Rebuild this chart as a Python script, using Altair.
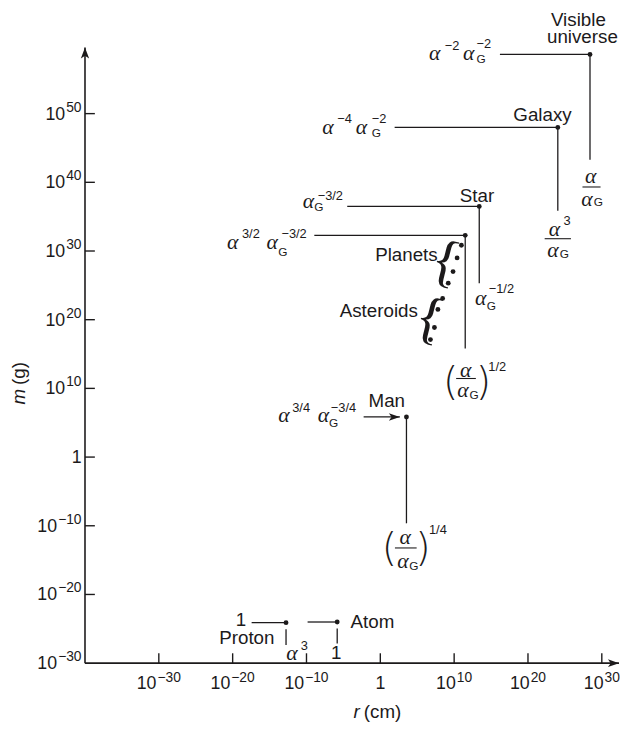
import altair as alt
import pandas as pd

# ---------------- data: log10 r (cm), log10 m (g) ----------------
obj_names = ["Proton", "Atom", "Man", "Planets", "Star", "Galaxy", "Visible universe"]
obj_log_r = [-12.77, -5.84, 3.54, 11.5, 13.4, 24.04, 28.4]
obj_log_m = [-24.11, -24.01, 5.84, 32.28, 36.49, 47.99, 58.62]

planet_log_r = [10.98, 10.4, 9.85, 9.2]
planet_log_m = [30.84, 29.0, 27.0, 25.32]
asteroid_log_r = [8.44, 7.8, 7.33, 6.79]
asteroid_log_m = [23.1, 21.5, 18.86, 17.1]

# horizontal leader lines (from log r -> to log r, at log m)
hl_from = [-17.43, -9.85, -8.94, -4.48, 1.94, 16.2, -2.26]
hl_to = [-12.77, -5.84, 11.5, 13.4, 24.04, 28.4, 2.65]
hl_m = [-24.11, -24.01, 32.28, 36.49, 47.99, 58.62, 5.84]

# vertical leader lines (at log r, from log m top -> bottom)
vl_r = [-12.77, -5.84, 3.54, 11.5, 13.4, 24.04, 28.4]
vl_top = [-25.06, -24.97, 5.84, 32.28, 36.49, 47.99, 58.62]
vl_bot = [-27.36, -27.13, -9.64, 15.8, 25.32, 35.87, 43.29]

# fraction bars (from log r -> to log r, at log m)
fb_from = [10.27, 1.98, 22.26, 27.38]
fb_to = [12.94, 4.92, 25.82, 29.83]
fb_m = [11.44, -13.23, 31.79, 39.32]

# axes
x_tick_values = [-30, -20, -10, 0, 10, 20, 30]
y_tick_values = [-30, -20, -10, 0, 10, 20, 30, 40, 50]
x_axis_end = 32.33
y_axis_end = 59.63
X_DOMAIN = [-40, 32.33]
Y_DOMAIN = [-30, 64.7]

# annotation pieces: text, log r, log m, kind
texts = [
    ("Visible", 26.83, 63.65, "lab_c"),
    ("universe", 27.37, 61.21, "lab_c"),
    ("α", 6.59, 58.76, "alpha_l"),
    ("−2", 8.73, 59.81, "sup"),
    ("α", 11.20, 58.76, "alpha_l"),
    ("G", 13.02, 58.0, "sub"),
    ("−2", 13.02, 60.06, "sup"),
    ("α", 28.49, 40.90, "alpha_c"),
    ("α", 27.98, 37.54, "alpha_c"),
    ("G", 28.92, 37.06, "sub"),
    ("Galaxy", 21.97, 49.75, "lab_c"),
    ("α", -7.86, 47.99, "alpha_l"),
    ("−4", -5.83, 49.28, "sup"),
    ("α", -3.32, 47.99, "alpha_l"),
    ("G", -1.16, 47.12, "sub"),
    ("−2", -1.16, 49.28, "sup"),
    ("α", 23.58, 33.23, "alpha_c"),
    ("3", 24.80, 34.33, "sup"),
    ("α", 23.37, 30.17, "alpha_c"),
    ("G", 24.30, 29.59, "sub"),
    ("Star", 13.10, 37.93, "lab_c"),
    ("α", -10.49, 37.31, "alpha_l"),
    ("G", -8.94, 36.35, "sub"),
    ("−3/2", -8.49, 38.03, "sup"),
    ("α", 12.81, 23.17, "alpha_l"),
    ("G", 14.41, 21.98, "sub"),
    ("−1/2", 14.68, 24.52, "sup"),
    ("Planets", 7.77, 29.40, "lab_r"),
    ("Asteroids", 5.09, 21.26, "lab_r"),
    ("{", 8.8, 28.3, "brace"),
    ("{", 6.66, 20.0, "brace"),
    ("α", -20.75, 31.32, "alpha_l"),
    ("3/2", -18.74, 32.51, "sup"),
    ("α", -15.40, 31.32, "alpha_l"),
    ("G", -13.84, 29.88, "sub"),
    ("−3/2", -13.40, 32.51, "sup"),
    ("(", 9.53, 10.77, "paren"),
    (")", 13.96, 10.77, "paren"),
    ("α", 11.58, 12.64, "alpha_c"),
    ("α", 11.20, 9.76, "alpha_c"),
    ("G", 12.07, 9.04, "sub"),
    ("1/2", 14.63, 13.11, "sup"),
    ("Man", 0.87, 8.22, "lab_c"),
    ("α", -13.84, 6.17, "alpha_l"),
    ("3/4", -11.93, 7.18, "sup"),
    ("α", -8.49, 6.17, "alpha_l"),
    ("G", -6.94, 5.02, "sub"),
    ("−3/4", -6.71, 7.18, "sup"),
    ("(", 1.24, -13.37, "paren"),
    (")", 5.79, -13.37, "paren"),
    ("α", 3.38, -11.65, "alpha_c"),
    ("α", 3.05, -15.10, "alpha_c"),
    ("G", 3.92, -15.82, "sub"),
    ("1/4", 6.59, -10.60, "sup"),
    ("1", -18.16, -23.76, "lab_r"),
    ("Proton", -18.08, -26.41, "lab_c"),
    ("α", -12.73, -28.56, "alpha_l"),
    ("3", -10.79, -27.50, "sup"),
    ("Atom", -4.04, -24.01, "lab_l"),
    ("1", -5.98, -28.56, "lab_c"),
    ("r", -3.64, -37.18, "ital_l"),
    ("(cm)", -2.23, -37.18, "lab_l"),
    ("m", -48.96, 8.80, "ylab_i"),
    ("(g)", -48.96, 12.16, "ylab"),
]

# ---------------- styling ----------------
W, H = 541, 659
FONT = "Liberation Sans, Arial, Helvetica, DejaVu Sans, sans-serif"
SERIF = "Liberation Serif, Times New Roman, DejaVu Serif, serif"
INK = "#1c1a1b"

xscale = alt.Scale(domain=X_DOMAIN, nice=False, zero=False)
yscale = alt.Scale(domain=Y_DOMAIN, nice=False, zero=False)


def X(f="lr"):
    return alt.X(f"{f}:Q", scale=xscale, axis=None)


def Y(f="lm"):
    return alt.Y(f"{f}:Q", scale=yscale, axis=None)


# ---------------- tables ----------------
df_obj = pd.DataFrame({"name": obj_names, "lr": obj_log_r, "lm": obj_log_m})
df_small = pd.DataFrame({"lr": planet_log_r + asteroid_log_r,
                         "lm": planet_log_m + asteroid_log_m})
df_h = pd.DataFrame({"lr": hl_from, "lr2": hl_to, "lm": hl_m})
df_v = pd.DataFrame({"lr": vl_r, "lm": vl_top, "lm2": vl_bot})
df_fb = pd.DataFrame({"lr": fb_from, "lr2": fb_to, "lm": fb_m})
df_xt = pd.DataFrame({"lr": x_tick_values})
df_yt = pd.DataFrame({"lm": [v for v in y_tick_values if v > Y_DOMAIN[0]]})
df_axes = pd.DataFrame({"lr": [X_DOMAIN[0], X_DOMAIN[0]], "lr2": [X_DOMAIN[0], x_axis_end],
                        "lm": [Y_DOMAIN[0], Y_DOMAIN[0]], "lm2": [y_axis_end, Y_DOMAIN[0]]})
df_up = pd.DataFrame({"lr": [X_DOMAIN[0]], "lm": [y_axis_end]})
df_right = pd.DataFrame({"lr": [x_axis_end, hl_to[-1]], "lm": [Y_DOMAIN[0], hl_m[-1]]})
df_txt = pd.DataFrame(texts, columns=["text", "lr", "lm", "kind"])


def tick_table(values, field):
    rows = []
    for v in values:
        if v == 0:
            rows.append({field: v, "base": "1", "exp": "", "sign": "one"})
        else:
            rows.append({field: v, "base": "10", "exp": str(v).replace("-", "−"),
                         "sign": "neg" if v < 0 else "pos"})
    return pd.DataFrame(rows)


df_xl = tick_table(x_tick_values, "lr")
df_yl = tick_table(y_tick_values, "lm")

ARROW_UP = "M0,0 L0.6,1.6 L0,1.2 L-0.6,1.6 Z"
ARROW_RIGHT = "M0,0 L-1.6,-0.55 L-1.2,0 L-1.6,0.55 Z"

# ---------------- layers ----------------
axes_lines = alt.Chart(df_axes).mark_rule(color=INK, strokeWidth=1.6).encode(
    x=X(), x2="lr2:Q", y=Y(), y2="lm2:Q")
xticks = alt.Chart(df_xt).mark_rule(color=INK, strokeWidth=1.4).encode(
    x=X(), y=alt.value(H), y2=alt.value(H - 10))
yticks = alt.Chart(df_yt).mark_rule(color=INK, strokeWidth=1.4).encode(
    y=Y(), x=alt.value(0), x2=alt.value(10))
up_arrow = alt.Chart(df_up).mark_point(shape=ARROW_UP, filled=True, size=196,
                                       color=INK, opacity=1, strokeWidth=0).encode(x=X(), y=Y())
right_arrows = alt.Chart(df_right).mark_point(shape=ARROW_RIGHT, filled=True, size=196,
                                              color=INK, opacity=1, strokeWidth=0).encode(x=X(), y=Y())

hlines = alt.Chart(df_h).mark_rule(color=INK, strokeWidth=1.3).encode(x=X(), x2="lr2:Q", y=Y())
vlines = alt.Chart(df_v).mark_rule(color=INK, strokeWidth=1.3).encode(x=X(), y=Y(), y2="lm2:Q")
fbars = alt.Chart(df_fb).mark_rule(color=INK, strokeWidth=1.1).encode(x=X(), x2="lr2:Q", y=Y())

dots = alt.Chart(df_obj).mark_circle(color=INK, size=24, opacity=1).encode(x=X(), y=Y())
small_dots = alt.Chart(df_small).mark_circle(color=INK, size=24, opacity=1).encode(x=X(), y=Y())

# tick labels: "10" with a raised exponent
BASE_FS, EXP_FS = 18, 14
W10 = 1.112 * BASE_FS
W_EXP = {"pos": 1.112 * EXP_FS, "neg": 1.696 * EXP_FS}
tick_layers = []
for sgn in ["pos", "neg"]:
    tot = W10 + W_EXP[sgn] + 1
    tick_layers.append(
        alt.Chart(df_xl).transform_filter(alt.datum.sign == sgn)
        .mark_text(font=FONT, fontSize=BASE_FS, color=INK, align="left", baseline="middle",
                   dx=-tot / 2, dy=21)
        .encode(x=X(), y=alt.value(H), text="base:N"))
    tick_layers.append(
        alt.Chart(df_xl).transform_filter(alt.datum.sign == sgn)
        .mark_text(font=FONT, fontSize=EXP_FS, color=INK, align="left", baseline="middle",
                   dx=-tot / 2 + W10 + 1, dy=15)
        .encode(x=X(), y=alt.value(H), text="exp:N"))
    tick_layers.append(
        alt.Chart(df_yl).transform_filter(alt.datum.sign == sgn)
        .mark_text(font=FONT, fontSize=BASE_FS, color=INK, align="right", baseline="middle",
                   dx=-3.5 - W_EXP[sgn] - 1, dy=1)
        .encode(y=Y(), x=alt.value(0), text="base:N"))
    tick_layers.append(
        alt.Chart(df_yl).transform_filter(alt.datum.sign == sgn)
        .mark_text(font=FONT, fontSize=EXP_FS, color=INK, align="right", baseline="middle",
                   dx=-3.5, dy=-6)
        .encode(y=Y(), x=alt.value(0), text="exp:N"))
tick_layers.append(
    alt.Chart(df_xl).transform_filter(alt.datum.sign == "one")
    .mark_text(font=FONT, fontSize=BASE_FS, color=INK, align="center", baseline="middle", dy=21)
    .encode(x=X(), y=alt.value(H), text="base:N"))
tick_layers.append(
    alt.Chart(df_yl).transform_filter(alt.datum.sign == "one")
    .mark_text(font=FONT, fontSize=BASE_FS, color=INK, align="right", baseline="middle",
               dx=-3.5, dy=1)
    .encode(y=Y(), x=alt.value(0), text="base:N"))


def text_layer(kind, **kw):
    base = dict(color=INK, baseline="middle")
    base.update(kw)
    return (alt.Chart(df_txt).transform_filter(alt.datum.kind == kind)
            .mark_text(**base).encode(x=X(), y=Y(), text="text:N"))


text_layers = [
    text_layer("lab_l", font=FONT, fontSize=19, align="left"),
    text_layer("lab_c", font=FONT, fontSize=19, align="center"),
    text_layer("lab_r", font=FONT, fontSize=19, align="right"),
    text_layer("ital_l", font=FONT, fontSize=19, fontStyle="italic", align="left"),
    text_layer("alpha_l", font=SERIF, fontSize=22, fontStyle="italic", align="left"),
    text_layer("alpha_c", font=SERIF, fontSize=22, fontStyle="italic", align="center"),
    text_layer("sup", font=FONT, fontSize=13, align="left"),
    text_layer("sub", font=FONT, fontSize=12, align="left"),
    text_layer("paren", font="DejaVu Sans, Liberation Sans, sans-serif", fontSize=40,
               fontWeight=200, align="center"),
    text_layer("brace", font=SERIF, fontSize=58, align="center", angle=14),
    text_layer("ylab", font=FONT, fontSize=19, align="center", angle=270),
    text_layer("ylab_i", font=FONT, fontSize=19, fontStyle="italic", align="center", angle=270),
]

chart = alt.layer(
    axes_lines, xticks, yticks, up_arrow, right_arrows,
    hlines, vlines, fbars, dots, small_dots, *tick_layers, *text_layers,
).properties(
    width=W, height=H,
    padding={"left": 78, "top": 0, "right": 1, "bottom": 62},
    autosize=alt.AutoSizeParams(type="none"),
    background="white",
).configure_view(stroke=None)

chart.save("out.html", embed_options={"renderer": "svg", "actions": False})
